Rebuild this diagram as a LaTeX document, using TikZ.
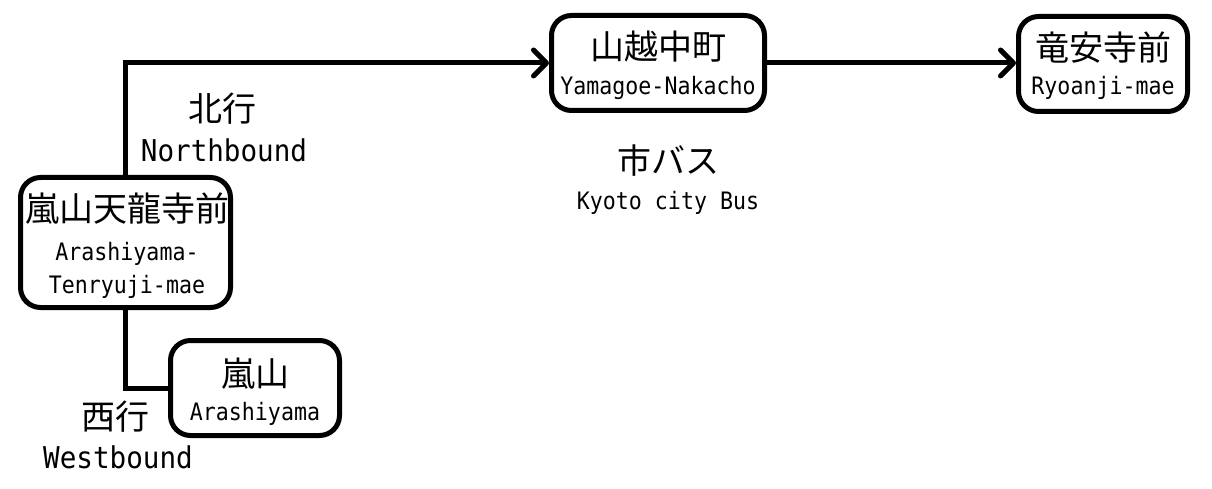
\documentclass[tikz,border=0pt]{standalone}
\usepackage{fontspec}
\newfontfamily\jp{Noto Sans CJK JP}
\newfontfamily\monos[FakeStretch=0.9]{DejaVu Sans Mono}
\newfontfamily\monol[FakeStretch=0.92]{DejaVu Sans Mono}
\usetikzlibrary{arrows.meta}
\begin{document}
\begin{tikzpicture}[x=1pt,y=-1pt,
  stbox/.style={draw,line width=5pt,rounded corners=20pt,inner sep=0pt},
  conn/.style={line width=5pt},
  arr/.style={conn,-{Straight Barb[length=13pt,width=26pt,line cap=round,line join=round]}},
  jpt/.style={inner sep=0pt,anchor=base,font=\jp\fontsize{34}{40}\selectfont},
  ens/.style={inner sep=0pt,anchor=base,font=\monos\fontsize{24}{28}\selectfont},
  enl/.style={inner sep=0pt,anchor=base,font=\monol\fontsize{30}{34}\selectfont}]
\useasboundingbox (0,0) rectangle (1212,489);
\fill[white] (0,0) rectangle (1212,489);
% boxes
\node[stbox,minimum width=210pt,minimum height=130pt] (A) at (125.5,242.5) {};
\node[stbox,minimum width=169pt,minimum height=95pt] (B) at (255,388) {};
\node[stbox,minimum width=213pt,minimum height=95pt] (C) at (658,63) {};
\node[stbox,minimum width=169pt,minimum height=95pt] (D) at (1103,64) {};
% box texts
\node[jpt] (aj) at (127,222) {嵐山天龍寺前};
\node[ens] (ae1) at (127,260) {Arashiyama-};
\node[ens] (ae2) at (127,293) {Tenryuji-mae};
\node[jpt] (bj) at (255,386) {嵐山};
\node[ens] (be) at (255,420) {Arashiyama};
\node[jpt] (cj) at (658,60) {山越中町};
\node[ens] (ce) at (658,95) {Yamagoe-Nakacho};
\node[jpt] (dj) at (1103,61) {竜安寺前};
\node[ens] (de) at (1103,95) {Ryoanji-mae};
% labels
\node[jpt] (nj) at (222,122) {北行};
\node[enl] (ne) at (224,162) {Northbound};
\node[jpt] (kj) at (668,174) {市バス};
\node[ens] (ke) at (668,210) {Kyoto city Bus};
\node[jpt] (wj) at (115,429) {西行};
\node[enl] (we) at (118,468) {Westbound};
% connectors
\draw[arr] (A.north) |- (C.west);
\draw[arr] (C.east) -- (C.east -| D.west);
\draw[conn] (A.south) |- (B.west);
\end{tikzpicture}
\end{document}
